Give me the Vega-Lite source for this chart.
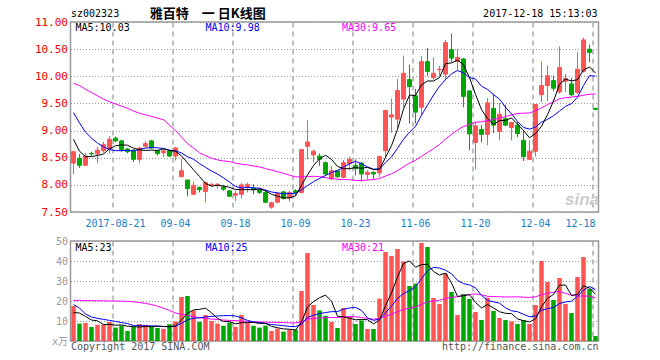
{
"$schema":"https://vega.github.io/schema/vega-lite/v6.json",
"background":"white",
"padding":{"left":33.5,"top":7,"right":5,"bottom":2},
"bounds":"flush",
"spacing":29,
"datasets":{"k":[
{"d":"2017-08-10","o":8.4,"h":8.63,"l":8.2,"c":8.61,"v":17.5,"m5":8.84,"m10":9.33,"m30":9.87,"vm5":14.2,"vm10":18.2,"vm30":20.3},
{"d":"2017-08-11","o":8.49,"h":8.57,"l":8.31,"c":8.36,"v":8.7,"m5":8.62,"m10":9.14,"m30":9.83,"vm5":14.0,"vm10":16.5,"vm30":20.3},
{"d":"2017-08-14","o":8.36,"h":8.59,"l":8.35,"c":8.53,"v":9.0,"m5":8.52,"m10":8.97,"m30":9.76,"vm5":12.3,"vm10":13.5,"vm30":20.2},
{"d":"2017-08-15","o":8.58,"h":8.61,"l":8.53,"c":8.57,"v":7.0,"m5":8.52,"m10":8.86,"m30":9.7,"vm5":10.5,"vm10":12.0,"vm30":20.2},
{"d":"2017-08-16","o":8.57,"h":8.7,"l":8.4,"c":8.64,"v":8.1,"m5":8.542,"m10":8.77,"m30":9.64,"vm5":10.06,"vm10":11.3,"vm30":20.1},
{"d":"2017-08-17","o":8.63,"h":8.79,"l":8.59,"c":8.74,"v":8.2,"m5":8.568,"m10":8.7,"m30":9.58,"vm5":8.2,"vm10":10.8,"vm30":20.1},
{"d":"2017-08-18","o":8.66,"h":8.9,"l":8.58,"c":8.84,"v":9.5,"m5":8.664,"m10":8.65,"m30":9.53,"vm5":8.36,"vm10":10.3,"vm30":20.0},
{"d":"2017-08-21","o":8.86,"h":8.89,"l":8.79,"c":8.81,"v":6.7,"m5":8.72,"m10":8.63,"m30":9.49,"vm5":7.9,"vm10":9.8,"vm30":20.0},
{"d":"2017-08-22","o":8.81,"h":8.83,"l":8.61,"c":8.65,"v":7.7,"m5":8.736,"m10":8.63,"m30":9.45,"vm5":8.04,"vm10":9.2,"vm30":19.9},
{"d":"2017-08-23","o":8.66,"h":8.68,"l":8.58,"c":8.61,"v":5.0,"m5":8.73,"m10":8.636,"m30":9.41,"vm5":7.42,"vm10":8.74,"vm30":19.8},
{"d":"2017-08-24","o":8.64,"h":8.66,"l":8.42,"c":8.47,"v":7.0,"m5":8.676,"m10":8.622,"m30":9.36,"vm5":7.18,"vm10":7.69,"vm30":19.6},
{"d":"2017-08-25","o":8.47,"h":8.7,"l":8.4,"c":8.68,"v":8.5,"m5":8.644,"m10":8.654,"m30":9.32,"vm5":6.98,"vm10":7.67,"vm30":19.2},
{"d":"2017-08-28","o":8.71,"h":8.81,"l":8.69,"c":8.76,"v":8.1,"m5":8.634,"m10":8.677,"m30":9.29,"vm5":7.26,"vm10":7.58,"vm30":18.8},
{"d":"2017-08-29","o":8.81,"h":8.83,"l":8.66,"c":8.68,"v":7.1,"m5":8.64,"m10":8.688,"m30":9.26,"vm5":7.14,"vm10":7.59,"vm30":18.2},
{"d":"2017-08-30","o":8.63,"h":8.65,"l":8.54,"c":8.575,"v":6.5,"m5":8.633,"m10":8.682,"m30":9.23,"vm5":7.44,"vm10":7.43,"vm30":17.4},
{"d":"2017-08-31","o":8.59,"h":8.66,"l":8.51,"c":8.625,"v":6.1,"m5":8.664,"m10":8.67,"m30":9.2,"vm5":7.26,"vm10":7.22,"vm30":16.4},
{"d":"2017-09-01","o":8.625,"h":8.64,"l":8.51,"c":8.53,"v":8.4,"m5":8.634,"m10":8.639,"m30":9.1,"vm5":7.24,"vm10":7.11,"vm30":15.3},
{"d":"2017-09-04","o":8.53,"h":8.7,"l":8.45,"c":8.68,"v":9.7,"m5":8.618,"m10":8.626,"m30":9.0,"vm5":7.56,"vm10":7.41,"vm30":14.0},
{"d":"2017-09-05","o":8.15,"h":8.48,"l":8.14,"c":8.26,"v":22,"m5":8.534,"m10":8.587,"m30":8.88,"vm5":10.54,"vm10":8.84,"vm30":13.3},
{"d":"2017-09-06","o":8.09,"h":8.09,"l":7.79,"c":7.93,"v":22.5,"m5":8.405,"m10":8.519,"m30":8.76,"vm5":13.74,"vm10":10.59,"vm30":12.8},
{"d":"2017-09-07","o":7.825,"h":8.06,"l":7.81,"c":7.99,"v":15.2,"m5":8.278,"m10":8.471,"m30":8.68,"vm5":15.56,"vm10":11.41,"vm30":12.2},
{"d":"2017-09-08","o":7.95,"h":7.97,"l":7.86,"c":7.91,"v":9.6,"m5":8.154,"m10":8.394,"m30":8.59,"vm5":15.8,"vm10":11.52,"vm30":11.7},
{"d":"2017-09-11","o":7.875,"h":8.06,"l":7.68,"c":8.04,"v":13,"m5":8.026,"m10":8.322,"m30":8.54,"vm5":16.46,"vm10":12.01,"vm30":11.3},
{"d":"2017-09-12","o":7.99,"h":8.03,"l":7.96,"c":8.01,"v":10,"m5":7.976,"m10":8.255,"m30":8.49,"vm5":14.06,"vm10":12.3,"vm30":11.0},
{"d":"2017-09-13","o":7.99,"h":8.03,"l":7.93,"c":8.01,"v":8.7,"m5":7.992,"m10":8.199,"m30":8.46,"vm5":11.3,"vm10":12.52,"vm30":10.7},
{"d":"2017-09-14","o":7.96,"h":8.0,"l":7.89,"c":7.92,"v":7.6,"m5":7.978,"m10":8.128,"m30":8.44,"vm5":9.78,"vm10":12.67,"vm30":10.5},
{"d":"2017-09-15","o":7.89,"h":7.91,"l":7.775,"c":7.79,"v":9.3,"m5":7.954,"m10":8.054,"m30":8.43,"vm5":9.72,"vm10":12.76,"vm30":10.3},
{"d":"2017-09-18","o":7.81,"h":7.89,"l":7.7,"c":7.84,"v":7.1,"m5":7.914,"m10":7.97,"m30":8.4,"vm5":8.54,"vm10":12.5,"vm30":10.2},
{"d":"2017-09-19","o":7.825,"h":8.03,"l":7.75,"c":8.0,"v":13,"m5":7.912,"m10":7.944,"m30":8.38,"vm5":9.14,"vm10":11.6,"vm30":10.0},
{"d":"2017-09-20","o":7.97,"h":8.04,"l":7.86,"c":8.01,"v":9.5,"m5":7.912,"m10":7.952,"m30":8.369,"vm5":9.3,"vm10":10.3,"vm30":9.88},
{"d":"2017-09-21","o":7.94,"h":8.01,"l":7.83,"c":7.91,"v":7.6,"m5":7.91,"m10":7.944,"m30":8.346,"vm5":9.3,"vm10":9.54,"vm30":9.55},
{"d":"2017-09-22","o":7.91,"h":7.93,"l":7.83,"c":7.86,"v":6.7,"m5":7.924,"m10":7.939,"m30":8.329,"vm5":8.78,"vm10":9.25,"vm30":9.48},
{"d":"2017-09-25","o":7.86,"h":7.89,"l":7.66,"c":7.68,"v":7.7,"m5":7.892,"m10":7.903,"m30":8.301,"vm5":8.9,"vm10":8.72,"vm30":9.44},
{"d":"2017-09-26","o":7.59,"h":7.69,"l":7.56,"c":7.67,"v":5.0,"m5":7.826,"m10":7.869,"m30":8.271,"vm5":7.3,"vm10":8.22,"vm30":9.37},
{"d":"2017-09-27","o":7.68,"h":7.87,"l":7.67,"c":7.84,"v":6.2,"m5":7.792,"m10":7.852,"m30":8.244,"vm5":6.64,"vm10":7.97,"vm30":9.31},
{"d":"2017-09-28","o":7.87,"h":7.89,"l":7.73,"c":7.75,"v":4.7,"m5":7.76,"m10":7.835,"m30":8.211,"vm5":6.06,"vm10":7.68,"vm30":9.19},
{"d":"2017-09-29","o":7.76,"h":7.89,"l":7.69,"c":7.86,"v":5.7,"m5":7.76,"m10":7.842,"m30":8.178,"vm5":5.86,"vm10":7.32,"vm30":9.06},
{"d":"2017-10-09","o":7.89,"h":7.92,"l":7.8,"c":7.86,"v":5.7,"m5":7.796,"m10":7.844,"m30":8.147,"vm5":5.46,"vm10":7.18,"vm30":9.03},
{"d":"2017-10-10","o":7.86,"h":8.65,"l":7.84,"c":8.65,"v":25,"m5":7.992,"m10":7.909,"m30":8.147,"vm5":9.46,"vm10":8.38,"vm30":9.61},
{"d":"2017-10-11","o":8.71,"h":9.19,"l":8.47,"c":8.79,"v":44,"m5":8.182,"m10":7.987,"m30":8.153,"vm5":17.02,"vm10":11.83,"vm30":10.91},
{"d":"2017-10-12","o":8.55,"h":8.65,"l":8.42,"c":8.62,"v":18,"m5":8.356,"m10":8.058,"m30":8.158,"vm5":19.68,"vm10":12.87,"vm30":11.27},
{"d":"2017-10-13","o":8.53,"h":8.58,"l":8.35,"c":8.47,"v":15.3,"m5":8.478,"m10":8.119,"m30":8.151,"vm5":21.6,"vm10":13.73,"vm30":11.5},
{"d":"2017-10-16","o":8.41,"h":8.43,"l":8.17,"c":8.2,"v":12.6,"m5":8.546,"m10":8.171,"m30":8.132,"vm5":22.98,"vm10":14.22,"vm30":11.65},
{"d":"2017-10-17","o":8.11,"h":8.35,"l":8.09,"c":8.26,"v":9.5,"m5":8.468,"m10":8.23,"m30":8.118,"vm5":19.88,"vm10":14.67,"vm30":11.73},
{"d":"2017-10-18","o":8.26,"h":8.28,"l":8.13,"c":8.15,"v":6.5,"m5":8.34,"m10":8.261,"m30":8.104,"vm5":12.38,"vm10":14.7,"vm30":11.73},
{"d":"2017-10-19","o":8.14,"h":8.46,"l":8.12,"c":8.41,"v":16.5,"m5":8.298,"m10":8.327,"m30":8.097,"vm5":12.08,"vm10":15.88,"vm30":12.08},
{"d":"2017-10-20","o":8.39,"h":8.52,"l":8.27,"c":8.47,"v":12,"m5":8.298,"m10":8.388,"m30":8.095,"vm5":11.42,"vm10":16.51,"vm30":12.2},
{"d":"2017-10-23","o":8.36,"h":8.47,"l":8.17,"c":8.3,"v":8.5,"m5":8.318,"m10":8.432,"m30":8.082,"vm5":10.6,"vm10":16.79,"vm30":12.16},
{"d":"2017-10-24","o":8.4,"h":8.42,"l":8.06,"c":8.2,"v":10.3,"m5":8.306,"m10":8.387,"m30":8.08,"vm5":10.76,"vm10":15.32,"vm30":11.77},
{"d":"2017-10-25","o":8.19,"h":8.27,"l":8.1,"c":8.23,"v":6.0,"m5":8.322,"m10":8.331,"m30":8.09,"vm5":10.66,"vm10":11.52,"vm30":11.22},
{"d":"2017-10-26","o":8.23,"h":8.25,"l":8.11,"c":8.2,"v":6.0,"m5":8.28,"m10":8.289,"m30":8.097,"vm5":8.56,"vm10":10.32,"vm30":10.91},
{"d":"2017-10-27","o":8.22,"h":8.54,"l":8.14,"c":8.52,"v":21.2,"m5":8.29,"m10":8.294,"m30":8.117,"vm5":10.4,"vm10":10.91,"vm30":11.3},
{"d":"2017-10-30","o":8.63,"h":9.39,"l":8.51,"c":9.37,"v":44.5,"m5":8.504,"m10":8.411,"m30":8.162,"vm5":17.6,"vm10":14.1,"vm30":12.35},
{"d":"2017-10-31","o":9.25,"h":9.59,"l":8.96,"c":9.29,"v":42.5,"m5":8.722,"m10":8.514,"m30":8.204,"vm5":24.04,"vm10":17.4,"vm30":13.43},
{"d":"2017-11-01","o":9.21,"h":9.95,"l":9.05,"c":9.74,"v":46,"m5":9.024,"m10":8.673,"m30":8.262,"vm5":32.04,"vm10":21.35,"vm30":14.67},
{"d":"2017-11-02","o":9.58,"h":10.38,"l":9.43,"c":10.055,"v":39.7,"m5":9.395,"m10":8.838,"m30":8.333,"vm5":38.78,"vm10":23.67,"vm30":15.74},
{"d":"2017-11-03","o":9.94,"h":10.21,"l":9.13,"c":9.81,"v":27.5,"m5":9.653,"m10":8.972,"m30":8.401,"vm5":40.04,"vm10":25.22,"vm30":16.35},
{"d":"2017-11-06","o":9.64,"h":9.77,"l":9.13,"c":9.34,"v":28.7,"m5":9.647,"m10":9.076,"m30":8.451,"vm5":36.88,"vm10":27.24,"vm30":17.07},
{"d":"2017-11-07","o":9.43,"h":10.37,"l":9.28,"c":10.27,"v":49,"m5":9.843,"m10":9.283,"m30":8.526,"vm5":38.18,"vm10":31.11,"vm30":18.27},
{"d":"2017-11-08","o":10.27,"h":10.52,"l":10.01,"c":10.09,"v":47,"m5":9.913,"m10":9.469,"m30":8.596,"vm5":38.38,"vm10":35.21,"vm30":19.52},
{"d":"2017-11-09","o":9.975,"h":10.35,"l":9.94,"c":10.055,"v":21.5,"m5":9.913,"m10":9.654,"m30":8.667,"vm5":34.74,"vm10":36.76,"vm30":19.98},
{"d":"2017-11-10","o":10.12,"h":10.19,"l":10.01,"c":10.13,"v":18.5,"m5":9.977,"m10":9.815,"m30":8.743,"vm5":32.94,"vm10":36.49,"vm30":20.38},
{"d":"2017-11-13","o":10.04,"h":10.67,"l":9.93,"c":10.62,"v":33.8,"m5":10.233,"m10":9.94,"m30":8.841,"vm5":33.96,"vm10":35.42,"vm30":21.25},
{"d":"2017-11-14","o":10.49,"h":10.79,"l":10.26,"c":10.335,"v":24.5,"m5":10.246,"m10":10.045,"m30":8.93,"vm5":29.06,"vm10":33.62,"vm30":21.9},
{"d":"2017-11-15","o":10.27,"h":10.5,"l":10.1,"c":10.35,"v":13,"m5":10.298,"m10":10.106,"m30":9.013,"vm5":22.26,"vm10":30.32,"vm30":22.12},
{"d":"2017-11-16","o":10.32,"h":10.33,"l":9.43,"c":9.63,"v":23.5,"m5":10.213,"m10":10.063,"m30":9.076,"vm5":22.66,"vm10":28.7,"vm30":22.75},
{"d":"2017-11-17","o":9.73,"h":9.74,"l":8.64,"c":8.94,"v":21,"m5":9.975,"m10":9.976,"m30":9.112,"vm5":23.16,"vm10":28.05,"vm30":23.26},
{"d":"2017-11-20","o":8.78,"h":9.16,"l":8.29,"c":9.085,"v":14.5,"m5":9.668,"m10":9.951,"m30":9.153,"vm5":19.3,"vm10":26.63,"vm30":23.55},
{"d":"2017-11-21","o":9.02,"h":9.1,"l":8.78,"c":8.93,"v":10.5,"m5":9.387,"m10":9.817,"m30":9.162,"vm5":16.5,"vm10":22.78,"vm30":23.07},
{"d":"2017-11-22","o":8.93,"h":9.6,"l":8.73,"c":9.51,"v":21.7,"m5":9.219,"m10":9.759,"m30":9.186,"vm5":18.24,"vm10":20.25,"vm30":22.33},
{"d":"2017-11-23","o":9.41,"h":9.68,"l":8.95,"c":9.1,"v":15,"m5":9.113,"m10":9.663,"m30":9.202,"vm5":16.54,"vm10":19.6,"vm30":22.23},
{"d":"2017-11-24","o":8.98,"h":9.51,"l":8.82,"c":9.3,"v":11.5,"m5":9.185,"m10":9.58,"m30":9.23,"vm5":14.64,"vm10":18.9,"vm30":22.1},
{"d":"2017-11-27","o":9.22,"h":9.48,"l":9.08,"c":9.1,"v":10.5,"m5":9.188,"m10":9.428,"m30":9.26,"vm5":13.84,"vm10":16.57,"vm30":22.03},
{"d":"2017-11-28","o":9.055,"h":9.16,"l":8.82,"c":9.15,"v":9.8,"m5":9.232,"m10":9.31,"m30":9.289,"vm5":13.7,"vm10":15.1,"vm30":22.04},
{"d":"2017-11-29","o":9.1,"h":9.16,"l":8.88,"c":8.945,"v":8.5,"m5":9.119,"m10":9.169,"m30":9.316,"vm5":11.06,"vm10":14.65,"vm30":22.11},
{"d":"2017-11-30","o":8.82,"h":9.0,"l":8.44,"c":8.52,"v":10.5,"m5":9.003,"m10":9.058,"m30":9.32,"vm5":10.16,"vm10":13.35,"vm30":21.91},
{"d":"2017-12-01","o":8.47,"h":8.82,"l":8.46,"c":8.62,"v":8.5,"m5":8.867,"m10":9.026,"m30":9.325,"vm5":9.56,"vm10":12.1,"vm30":21.79},
{"d":"2017-12-04","o":8.62,"h":9.48,"l":8.52,"c":9.48,"v":18,"m5":8.943,"m10":9.066,"m30":9.364,"vm5":11.06,"vm10":12.45,"vm30":22.11},
{"d":"2017-12-05","o":9.66,"h":10.27,"l":9.52,"c":9.83,"v":40,"m5":9.079,"m10":9.156,"m30":9.418,"vm5":17.1,"vm10":15.4,"vm30":23.1},
{"d":"2017-12-06","o":9.83,"h":10.2,"l":9.54,"c":10.01,"v":29.5,"m5":9.292,"m10":9.206,"m30":9.478,"vm5":21.3,"vm10":16.18,"vm30":23.88},
{"d":"2017-12-07","o":9.92,"h":10.01,"l":9.73,"c":9.78,"v":20.5,"m5":9.544,"m10":9.274,"m30":9.53,"vm5":23.3,"vm10":16.73,"vm30":24.36},
{"d":"2017-12-08","o":9.71,"h":10.55,"l":9.68,"c":10.16,"v":31.5,"m5":9.852,"m10":9.36,"m30":9.585,"vm5":27.9,"vm10":18.73,"vm30":24.71},
{"d":"2017-12-11","o":9.91,"h":10.04,"l":9.71,"c":9.96,"v":18.5,"m5":9.948,"m10":9.446,"m30":9.605,"vm5":28.0,"vm10":19.53,"vm30":23.84},
{"d":"2017-12-12","o":9.86,"h":9.97,"l":9.63,"c":9.66,"v":14,"m5":9.914,"m10":9.497,"m30":9.617,"vm5":22.8,"vm10":19.95,"vm30":22.89},
{"d":"2017-12-13","o":9.7,"h":10.44,"l":9.68,"c":10.13,"v":32,"m5":9.938,"m10":9.615,"m30":9.63,"vm5":23.3,"vm10":22.3,"vm30":22.42},
{"d":"2017-12-14","o":10.09,"h":10.71,"l":10.07,"c":10.67,"v":42,"m5":10.116,"m10":9.83,"m30":9.65,"vm5":27.6,"vm10":25.45,"vm30":22.5},
{"d":"2017-12-15","o":10.5,"h":10.58,"l":10.26,"c":10.44,"v":26,"m5":10.172,"m10":10.012,"m30":9.671,"vm5":26.5,"vm10":27.2,"vm30":22.45},
{"d":"2017-12-18","o":9.41,"h":9.41,"l":9.39,"c":9.39,"v":2.5,"m5":10.06,"m10":10.004,"m30":9.673,"vm5":23.3,"vm10":25.65,"vm30":21.58}
]},
"config":{
 "view":{"stroke":"#999999","strokeWidth":1.5},
 "axis":{"labelFont":"DejaVu Sans Mono, Noto Sans CJK SC","domain":false,"ticks":false},
 "text":{"font":"DejaVu Sans Mono","fontSize":10,"baseline":"middle"}
},
"vconcat":[
{
 "width":528,"height":190,
 "data":{"name":"k"},
 "encoding":{"x":{"field":"d","type":"ordinal","scale":{"paddingInner":0,"paddingOuter":0},
   "axis":{"title":null,"values":["2017-08-21","2017-09-04","2017-09-18","2017-10-09","2017-10-23","2017-11-06","2017-11-20","2017-12-04","2017-12-18"],
     "labelExpr":"datum.value == '2017-08-21' ? datum.value : slice(datum.value, 5)",
     "labelAlign":{"condition":{"test":"datum.value == '2017-12-18'","value":"right"},"value":"center"},
     "labelAngle":0,"labelColor":"#1a7dc6","labelFontSize":10,"labelPadding":6,"labelOverlap":false,"labelBound":false,
     "bandPosition":0.1,"grid":true,"gridDash":[5,4],"gridColor":"#aaaaaa","gridWidth":1.5}}},
 "layer":[
  {"mark":{"type":"rule","strokeWidth":1},
   "encoding":{"y":{"field":"l","type":"quantitative","scale":{"domain":[7.5,11],"zero":false,"nice":false},
      "axis":{"title":null,"values":[7.5,8,8.5,9,9.5,10,10.5,11],"tickCount":20,"format":".2f","labelColor":"#ff0000","labelFontSize":11,"labelPadding":3,"labelOverlap":false,"labelBound":false,"labelFlush":false,"grid":true,"gridDash":[1,2],"gridColor":"#999999","gridWidth":1}},
    "y2":{"field":"h"},
    "color":{"condition":{"test":"datum.c >= datum.o","value":"#ff5555"},"value":"#00a600"}}},
  {"mark":{"type":"bar","size":4,"strokeWidth":1},
   "encoding":{"y":{"field":"o","type":"quantitative"},"y2":{"field":"c"},
    "color":{"condition":{"test":"datum.c >= datum.o","value":"#ff5555"},"value":"#00a600"},
    "stroke":{"condition":{"test":"datum.c >= datum.o","value":"#ff5555"},"value":"#00a600"}}},
  {"mark":{"type":"line","color":"#ff00ff","strokeWidth":1},"encoding":{"y":{"field":"m30","type":"quantitative"}}},
  {"mark":{"type":"line","color":"#0000ff","strokeWidth":1},"encoding":{"y":{"field":"m10","type":"quantitative"}}},
  {"mark":{"type":"line","color":"#000000","strokeWidth":1},"encoding":{"y":{"field":"m5","type":"quantitative"}}},
  {"data":{"values":[{}]},"mark":{"type":"text","text":"MA5:10.03","align":"left","dx":2,"color":"#000000"},
   "encoding":{"x":{"datum":"2017-08-10","type":"ordinal"},"y":{"datum":10.895,"type":"quantitative"}}},
  {"data":{"values":[{}]},"mark":{"type":"text","text":"MA10:9.98","align":"left","dx":0,"color":"#0000ff"},
   "encoding":{"x":{"datum":"2017-09-11","type":"ordinal"},"y":{"datum":10.895,"type":"quantitative"}}},
  {"data":{"values":[{}]},"mark":{"type":"text","text":"MA30:9.65","align":"left","dx":-1.5,"color":"#ff00ff"},
   "encoding":{"x":{"datum":"2017-10-19","type":"ordinal"},"y":{"datum":10.895,"type":"quantitative"}}},
  {"data":{"values":[{}]},"mark":{"type":"text","text":"sz002323","align":"left","dx":-2.5,"color":"#000000"},
   "encoding":{"x":{"datum":"2017-08-10","type":"ordinal"},"y":{"datum":11.14,"type":"quantitative"}}},
  {"data":{"values":[{}]},"mark":{"type":"text","text":"雅百特　一 日K线图","align":"center","dx":2.3,"font":"Noto Sans CJK SC","fontSize":13,"fontWeight":"bold","color":"#000000"},
   "encoding":{"x":{"datum":"2017-09-11","type":"ordinal"},"y":{"datum":11.14,"type":"quantitative"}}},
  {"data":{"values":[{}]},"mark":{"type":"text","text":"2017-12-18 15:13:03","align":"right","dx":2,"color":"#000000"},
   "encoding":{"x":{"datum":"2017-12-18","type":"ordinal"},"y":{"datum":11.145,"type":"quantitative"}}},
  {"data":{"values":[{}]},"mark":{"type":"text","text":"sina","align":"center","dx":-1.5,"font":"Liberation Sans","fontSize":17,"fontStyle":"italic","fontWeight":"bold","color":"#cccccc"},
   "encoding":{"x":{"datum":"2017-12-14","type":"ordinal"},"y":{"datum":7.72,"type":"quantitative"}}}
 ]
},
{
 "width":528,"height":100,
 "data":{"name":"k"},
 "encoding":{"x":{"field":"d","type":"ordinal","scale":{"paddingInner":0,"paddingOuter":0},
   "axis":{"title":null,"values":["2017-08-21","2017-09-04","2017-09-18","2017-10-09","2017-10-23","2017-11-06","2017-11-20","2017-12-04","2017-12-18"],
     "labels":false,"bandPosition":0.1,"grid":true,"gridDash":[5,4],"gridColor":"#aaaaaa","gridWidth":1.5}}},
 "layer":[
  {"mark":{"type":"bar","size":4.5},
   "encoding":{"y":{"field":"v","type":"quantitative","scale":{"domain":[0,50],"nice":false},
      "axis":{"title":null,"values":[0,10,20,30,40,50],"tickCount":20,"labelExpr":"datum.value == 0 ? 'x万' : datum.label","labelColor":"#999999","labelFontSize":10,"labelPadding":3,"labelOverlap":false,"labelBound":false,"labelFlush":false,"grid":true,"gridDash":[1,2],"gridColor":"#999999","gridWidth":1}},
    "color":{"condition":{"test":"datum.c >= datum.o","value":"#ff5555"},"value":"#00a600"}}},
  {"mark":{"type":"line","color":"#ff00ff","strokeWidth":1},"encoding":{"y":{"field":"vm30","type":"quantitative"}}},
  {"mark":{"type":"line","color":"#0000ff","strokeWidth":1},"encoding":{"y":{"field":"vm10","type":"quantitative"}}},
  {"mark":{"type":"line","color":"#000000","strokeWidth":1},"encoding":{"y":{"field":"vm5","type":"quantitative"}}},
  {"data":{"values":[{}]},"mark":{"type":"text","text":"MA5:23","align":"left","dx":2,"color":"#000000"},
   "encoding":{"x":{"datum":"2017-08-10","type":"ordinal"},"y":{"datum":46.4,"type":"quantitative"}}},
  {"data":{"values":[{}]},"mark":{"type":"text","text":"MA10:25","align":"left","dx":0,"color":"#0000ff"},
   "encoding":{"x":{"datum":"2017-09-11","type":"ordinal"},"y":{"datum":46.4,"type":"quantitative"}}},
  {"data":{"values":[{}]},"mark":{"type":"text","text":"MA30:21","align":"left","dx":-1.5,"color":"#ff00ff"},
   "encoding":{"x":{"datum":"2017-10-19","type":"ordinal"},"y":{"datum":46.4,"type":"quantitative"}}},
  {"data":{"values":[{}]},"mark":{"type":"text","text":"Copyright 2017 SINA.COM","align":"left","dx":-2.5,"color":"#555555"},
   "encoding":{"x":{"datum":"2017-08-10","type":"ordinal"},"y":{"datum":-2.75,"type":"quantitative"}}},
  {"data":{"values":[{}]},"mark":{"type":"text","text":"http://finance.sina.com.cn","align":"right","dx":3,"color":"#555555"},
   "encoding":{"x":{"datum":"2017-12-18","type":"ordinal"},"y":{"datum":-2.75,"type":"quantitative"}}}
 ]
}
]
}
